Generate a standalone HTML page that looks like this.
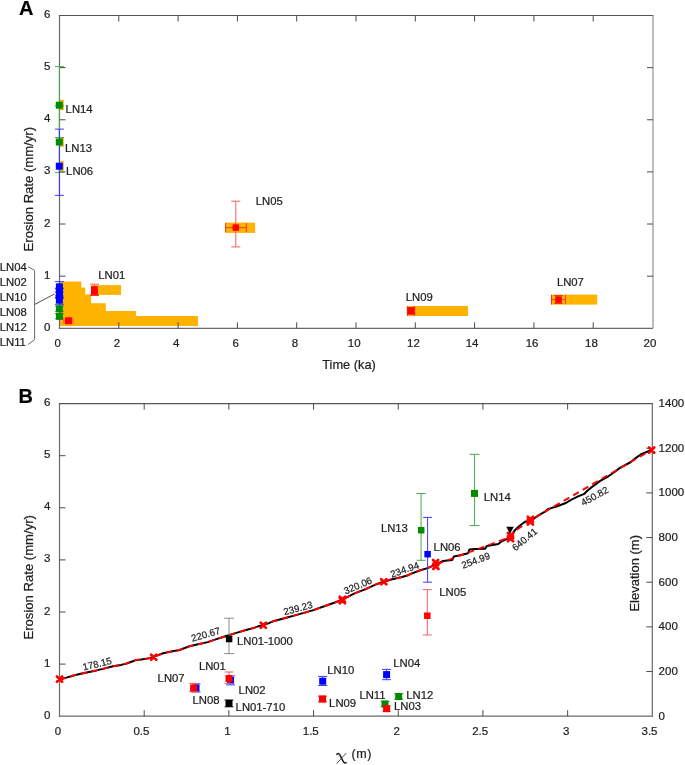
<!DOCTYPE html>
<html><head><meta charset="utf-8"><style>
html,body{margin:0;padding:0;background:#fff;}
svg{display:block;will-change:transform;}
text{font-family:"Liberation Sans", sans-serif;stroke:#1e1e1e;stroke-width:0.22px;}
</style></head><body>
<svg width="685" height="765" viewBox="0 0 685 765">
<rect width="685" height="765" fill="#fff"/>
<polygon points="59.5,326.0 59.5,281.4 81.3,281.4 81.3,287.5 85.2,287.5 85.2,294.5 91.1,294.5 91.1,303.3 105.8,303.3 105.8,311.0 136.0,311.0 136.0,316.0 198.0,316.0 198.0,326.0" fill="#FFB200"/>
<rect x="225.10" y="222.60" width="30.00" height="10.30" fill="#FFB200" />
<rect x="91.00" y="285.10" width="30.00" height="9.80" fill="#FFB200" />
<rect x="407.00" y="306.00" width="61.00" height="10.00" fill="#FFB200" />
<rect x="551.00" y="294.60" width="46.20" height="10.00" fill="#FFB200" />
<rect x="60.00" y="99.80" width="3.80" height="10.40" fill="#FFB200" />
<rect x="60.00" y="137.00" width="3.80" height="9.70" fill="#FFB200" />
<rect x="60.00" y="161.20" width="3.80" height="10.00" fill="#FFB200" />
<line x1="59.50" y1="15.50" x2="59.50" y2="328.90" stroke="#6a6a6a" stroke-width="1.2" />
<line x1="58.90" y1="328.30" x2="653.00" y2="328.30" stroke="#6a6a6a" stroke-width="1.3" />
<line x1="58.90" y1="15.50" x2="653.50" y2="15.50" stroke="#555" stroke-width="1.2" />
<line x1="653.00" y1="15.50" x2="653.00" y2="328.30" stroke="#9a9a9a" stroke-width="1.3" />
<line x1="59.50" y1="276.17" x2="65.50" y2="276.17" stroke="#4a4a4a" stroke-width="1" />
<line x1="653.00" y1="276.17" x2="647.00" y2="276.17" stroke="#4a4a4a" stroke-width="1" />
<line x1="59.50" y1="224.03" x2="65.50" y2="224.03" stroke="#4a4a4a" stroke-width="1" />
<line x1="653.00" y1="224.03" x2="647.00" y2="224.03" stroke="#4a4a4a" stroke-width="1" />
<line x1="59.50" y1="171.90" x2="65.50" y2="171.90" stroke="#4a4a4a" stroke-width="1" />
<line x1="653.00" y1="171.90" x2="647.00" y2="171.90" stroke="#4a4a4a" stroke-width="1" />
<line x1="59.50" y1="119.77" x2="65.50" y2="119.77" stroke="#4a4a4a" stroke-width="1" />
<line x1="653.00" y1="119.77" x2="647.00" y2="119.77" stroke="#4a4a4a" stroke-width="1" />
<line x1="59.50" y1="67.63" x2="65.50" y2="67.63" stroke="#4a4a4a" stroke-width="1" />
<line x1="653.00" y1="67.63" x2="647.00" y2="67.63" stroke="#4a4a4a" stroke-width="1" />
<line x1="118.80" y1="328.30" x2="118.80" y2="322.30" stroke="#4a4a4a" stroke-width="1" />
<line x1="118.80" y1="15.50" x2="118.80" y2="21.50" stroke="#4a4a4a" stroke-width="1" />
<line x1="178.10" y1="328.30" x2="178.10" y2="322.30" stroke="#4a4a4a" stroke-width="1" />
<line x1="178.10" y1="15.50" x2="178.10" y2="21.50" stroke="#4a4a4a" stroke-width="1" />
<line x1="237.40" y1="328.30" x2="237.40" y2="322.30" stroke="#4a4a4a" stroke-width="1" />
<line x1="237.40" y1="15.50" x2="237.40" y2="21.50" stroke="#4a4a4a" stroke-width="1" />
<line x1="296.70" y1="328.30" x2="296.70" y2="322.30" stroke="#4a4a4a" stroke-width="1" />
<line x1="296.70" y1="15.50" x2="296.70" y2="21.50" stroke="#4a4a4a" stroke-width="1" />
<line x1="356.00" y1="328.30" x2="356.00" y2="322.30" stroke="#4a4a4a" stroke-width="1" />
<line x1="356.00" y1="15.50" x2="356.00" y2="21.50" stroke="#4a4a4a" stroke-width="1" />
<line x1="415.30" y1="328.30" x2="415.30" y2="322.30" stroke="#4a4a4a" stroke-width="1" />
<line x1="415.30" y1="15.50" x2="415.30" y2="21.50" stroke="#4a4a4a" stroke-width="1" />
<line x1="474.60" y1="328.30" x2="474.60" y2="322.30" stroke="#4a4a4a" stroke-width="1" />
<line x1="474.60" y1="15.50" x2="474.60" y2="21.50" stroke="#4a4a4a" stroke-width="1" />
<line x1="533.90" y1="328.30" x2="533.90" y2="322.30" stroke="#4a4a4a" stroke-width="1" />
<line x1="533.90" y1="15.50" x2="533.90" y2="21.50" stroke="#4a4a4a" stroke-width="1" />
<line x1="593.20" y1="328.30" x2="593.20" y2="322.30" stroke="#4a4a4a" stroke-width="1" />
<line x1="593.20" y1="15.50" x2="593.20" y2="21.50" stroke="#4a4a4a" stroke-width="1" />
<text x="50.30" y="330.80" font-size="11.5" text-anchor="end" fill="#1e1e1e" >0</text>
<text x="50.30" y="278.67" font-size="11.5" text-anchor="end" fill="#1e1e1e" >1</text>
<text x="50.30" y="226.53" font-size="11.5" text-anchor="end" fill="#1e1e1e" >2</text>
<text x="50.30" y="174.40" font-size="11.5" text-anchor="end" fill="#1e1e1e" >3</text>
<text x="50.30" y="122.27" font-size="11.5" text-anchor="end" fill="#1e1e1e" >4</text>
<text x="50.30" y="70.13" font-size="11.5" text-anchor="end" fill="#1e1e1e" >5</text>
<text x="50.30" y="18.00" font-size="11.5" text-anchor="end" fill="#1e1e1e" >6</text>
<text x="57.70" y="347.00" font-size="11.5" text-anchor="middle" fill="#1e1e1e" >0</text>
<text x="117.00" y="347.00" font-size="11.5" text-anchor="middle" fill="#1e1e1e" >2</text>
<text x="176.30" y="347.00" font-size="11.5" text-anchor="middle" fill="#1e1e1e" >4</text>
<text x="235.60" y="347.00" font-size="11.5" text-anchor="middle" fill="#1e1e1e" >6</text>
<text x="294.90" y="347.00" font-size="11.5" text-anchor="middle" fill="#1e1e1e" >8</text>
<text x="354.20" y="347.00" font-size="11.5" text-anchor="middle" fill="#1e1e1e" >10</text>
<text x="413.50" y="347.00" font-size="11.5" text-anchor="middle" fill="#1e1e1e" >12</text>
<text x="472.10" y="347.00" font-size="11.5" text-anchor="middle" fill="#1e1e1e" >14</text>
<text x="532.10" y="347.00" font-size="11.5" text-anchor="middle" fill="#1e1e1e" >16</text>
<text x="591.40" y="347.00" font-size="11.5" text-anchor="middle" fill="#1e1e1e" >18</text>
<text x="650.00" y="347.00" font-size="11.5" text-anchor="middle" fill="#1e1e1e" >20</text>
<line x1="59.40" y1="66.59" x2="59.40" y2="137.49" stroke="#4CA64C" stroke-width="1" />
<line x1="54.90" y1="66.59" x2="63.90" y2="66.59" stroke="#4CA64C" stroke-width="1" />
<line x1="54.90" y1="137.49" x2="63.90" y2="137.49" stroke="#4CA64C" stroke-width="1" />
<line x1="59.40" y1="105.69" x2="59.40" y2="172.42" stroke="#4CA64C" stroke-width="1" />
<line x1="54.90" y1="105.69" x2="63.90" y2="105.69" stroke="#4CA64C" stroke-width="1" />
<line x1="54.90" y1="172.42" x2="63.90" y2="172.42" stroke="#4CA64C" stroke-width="1" />
<line x1="59.40" y1="129.15" x2="59.40" y2="195.36" stroke="#3B3BF0" stroke-width="1" />
<line x1="54.90" y1="129.15" x2="63.90" y2="129.15" stroke="#3B3BF0" stroke-width="1" />
<line x1="54.90" y1="195.36" x2="63.90" y2="195.36" stroke="#3B3BF0" stroke-width="1" />
<rect x="55.80" y="101.70" width="7.00" height="7.00" fill="#008C00" />
<rect x="55.80" y="138.50" width="7.00" height="7.00" fill="#008C00" />
<rect x="55.80" y="162.70" width="7.00" height="7.00" fill="#0000FF" />
<text x="65.60" y="113.00" font-size="11.3" text-anchor="start" fill="#1e1e1e" >LN14</text>
<text x="65.00" y="152.40" font-size="11.3" text-anchor="start" fill="#1e1e1e" >LN13</text>
<text x="66.10" y="174.70" font-size="11.3" text-anchor="start" fill="#1e1e1e" >LN06</text>
<line x1="59.40" y1="281.64" x2="59.40" y2="292.07" stroke="#3B3BF0" stroke-width="1" />
<line x1="54.90" y1="281.64" x2="63.90" y2="281.64" stroke="#3B3BF0" stroke-width="1" />
<line x1="54.90" y1="292.07" x2="63.90" y2="292.07" stroke="#3B3BF0" stroke-width="1" />
<line x1="59.40" y1="288.16" x2="59.40" y2="297.54" stroke="#3B3BF0" stroke-width="1" />
<line x1="54.90" y1="288.16" x2="63.90" y2="288.16" stroke="#3B3BF0" stroke-width="1" />
<line x1="54.90" y1="297.54" x2="63.90" y2="297.54" stroke="#3B3BF0" stroke-width="1" />
<line x1="59.40" y1="288.78" x2="59.40" y2="298.17" stroke="#3B3BF0" stroke-width="1" />
<line x1="54.90" y1="288.78" x2="63.90" y2="288.78" stroke="#3B3BF0" stroke-width="1" />
<line x1="54.90" y1="298.17" x2="63.90" y2="298.17" stroke="#3B3BF0" stroke-width="1" />
<line x1="59.40" y1="295.98" x2="59.40" y2="304.32" stroke="#3B3BF0" stroke-width="1" />
<line x1="54.90" y1="295.98" x2="63.90" y2="295.98" stroke="#3B3BF0" stroke-width="1" />
<line x1="54.90" y1="304.32" x2="63.90" y2="304.32" stroke="#3B3BF0" stroke-width="1" />
<line x1="59.40" y1="306.20" x2="59.40" y2="311.41" stroke="#4CA64C" stroke-width="1" />
<line x1="54.90" y1="306.20" x2="63.90" y2="306.20" stroke="#4CA64C" stroke-width="1" />
<line x1="54.90" y1="311.41" x2="63.90" y2="311.41" stroke="#4CA64C" stroke-width="1" />
<line x1="59.40" y1="313.70" x2="59.40" y2="318.92" stroke="#4CA64C" stroke-width="1" />
<line x1="54.90" y1="313.70" x2="63.90" y2="313.70" stroke="#4CA64C" stroke-width="1" />
<line x1="54.90" y1="318.92" x2="63.90" y2="318.92" stroke="#4CA64C" stroke-width="1" />
<rect x="55.90" y="283.35" width="7.00" height="7.00" fill="#0000FF" />
<rect x="55.90" y="289.35" width="7.00" height="7.00" fill="#0000FF" />
<rect x="55.90" y="289.97" width="7.00" height="7.00" fill="#0000FF" />
<rect x="55.90" y="296.65" width="7.00" height="7.00" fill="#0000FF" />
<rect x="55.90" y="305.30" width="7.00" height="7.00" fill="#008C00" />
<rect x="55.90" y="312.81" width="7.00" height="7.00" fill="#008C00" />
<line x1="63.80" y1="320.70" x2="73.00" y2="320.70" stroke="#F26060" stroke-width="1" />
<line x1="63.80" y1="317.20" x2="63.80" y2="324.20" stroke="#F26060" stroke-width="1" />
<line x1="73.00" y1="317.20" x2="73.00" y2="324.20" stroke="#F26060" stroke-width="1" />
<rect x="65.00" y="317.30" width="7.00" height="7.00" fill="#FF0000" />
<line x1="94.50" y1="284.20" x2="94.50" y2="295.30" stroke="#F26060" stroke-width="1" />
<line x1="90.00" y1="284.20" x2="99.00" y2="284.20" stroke="#F26060" stroke-width="1" />
<line x1="90.00" y1="295.30" x2="99.00" y2="295.30" stroke="#F26060" stroke-width="1" />
<line x1="90.00" y1="295.30" x2="99.00" y2="295.30" stroke="#F02020" stroke-width="1" />
<rect x="91.00" y="286.20" width="6.90" height="8.70" fill="#FF0000" />
<line x1="235.80" y1="201.20" x2="235.80" y2="246.90" stroke="#F26060" stroke-width="1" />
<line x1="231.30" y1="201.20" x2="240.30" y2="201.20" stroke="#F26060" stroke-width="1" />
<line x1="231.30" y1="246.90" x2="240.30" y2="246.90" stroke="#F26060" stroke-width="1" />
<line x1="225.60" y1="227.60" x2="246.30" y2="227.60" stroke="#E8401A" stroke-width="1" />
<line x1="225.60" y1="223.10" x2="225.60" y2="232.10" stroke="#E8401A" stroke-width="1" />
<line x1="246.30" y1="223.10" x2="246.30" y2="232.10" stroke="#E8401A" stroke-width="1" />
<rect x="232.55" y="224.35" width="6.50" height="6.50" fill="#FF0000" />
<rect x="407.20" y="307.10" width="7.60" height="7.60" fill="#FF0000" />
<line x1="407.40" y1="306.20" x2="407.40" y2="315.80" stroke="#F02010" stroke-width="1.1" />
<line x1="414.60" y1="306.20" x2="414.60" y2="315.80" stroke="#F02010" stroke-width="1.1" />
<line x1="551.50" y1="299.60" x2="565.50" y2="299.60" stroke="#F04A10" stroke-width="1" />
<line x1="551.50" y1="294.90" x2="551.50" y2="304.30" stroke="#F04A10" stroke-width="1" />
<line x1="565.50" y1="294.90" x2="565.50" y2="304.30" stroke="#F04A10" stroke-width="1" />
<line x1="551.50" y1="294.90" x2="551.50" y2="304.30" stroke="#F83020" stroke-width="1.1" />
<line x1="558.50" y1="295.50" x2="558.50" y2="303.50" stroke="#F03A10" stroke-width="1" />
<line x1="554.00" y1="295.50" x2="563.00" y2="295.50" stroke="#F03A10" stroke-width="1" />
<line x1="554.00" y1="303.50" x2="563.00" y2="303.50" stroke="#F03A10" stroke-width="1" />
<rect x="555.20" y="296.30" width="6.60" height="6.60" fill="#FF0000" />
<text x="255.70" y="204.90" font-size="11.3" text-anchor="start" fill="#1e1e1e" >LN05</text>
<text x="98.20" y="278.50" font-size="11.3" text-anchor="start" fill="#1e1e1e" >LN01</text>
<text x="405.70" y="300.50" font-size="11.3" text-anchor="start" fill="#1e1e1e" >LN09</text>
<text x="556.90" y="286.00" font-size="11.3" text-anchor="start" fill="#1e1e1e" >LN07</text>
<text x="-0.30" y="270.50" font-size="11.3" text-anchor="start" fill="#1e1e1e" >LN04</text>
<text x="-0.30" y="285.65" font-size="11.3" text-anchor="start" fill="#1e1e1e" >LN02</text>
<text x="-0.30" y="300.80" font-size="11.3" text-anchor="start" fill="#1e1e1e" >LN10</text>
<text x="-0.30" y="315.95" font-size="11.3" text-anchor="start" fill="#1e1e1e" >LN08</text>
<text x="-0.30" y="331.10" font-size="11.3" text-anchor="start" fill="#1e1e1e" >LN12</text>
<text x="-0.30" y="346.25" font-size="11.3" text-anchor="start" fill="#1e1e1e" >LN11</text>
<polyline points="28,266.6 34.6,270.4 34.6,339.6 28,344.6" fill="none" stroke="#6a6a6a" stroke-width="1"/>
<line x1="34.60" y1="304.50" x2="54.50" y2="294.00" stroke="#3a3a3a" stroke-width="0.9" />
<text x="349.00" y="369.00" font-size="12.8" text-anchor="middle" fill="#1e1e1e" >Time (ka)</text>
<text x="0.00" y="0.00" font-size="13.1" text-anchor="middle" fill="#1e1e1e" transform="translate(33.3,189.2) rotate(-90)">Erosion Rate (mm/yr)</text>
<text x="19.00" y="14.80" font-size="20" text-anchor="start" fill="#000" font-weight="bold">A</text>
<line x1="59.50" y1="403.60" x2="59.50" y2="716.80" stroke="#6a6a6a" stroke-width="1.2" />
<line x1="58.90" y1="716.20" x2="652.90" y2="716.20" stroke="#6a6a6a" stroke-width="1.3" />
<line x1="58.90" y1="403.60" x2="652.90" y2="403.60" stroke="#555" stroke-width="1.2" />
<line x1="652.30" y1="403.60" x2="652.30" y2="716.80" stroke="#6a6a6a" stroke-width="1.2" />
<line x1="59.50" y1="664.10" x2="65.50" y2="664.10" stroke="#4a4a4a" stroke-width="1" />
<line x1="59.50" y1="612.00" x2="65.50" y2="612.00" stroke="#4a4a4a" stroke-width="1" />
<line x1="59.50" y1="559.90" x2="65.50" y2="559.90" stroke="#4a4a4a" stroke-width="1" />
<line x1="59.50" y1="507.80" x2="65.50" y2="507.80" stroke="#4a4a4a" stroke-width="1" />
<line x1="59.50" y1="455.70" x2="65.50" y2="455.70" stroke="#4a4a4a" stroke-width="1" />
<line x1="652.30" y1="671.54" x2="646.30" y2="671.54" stroke="#4a4a4a" stroke-width="1" />
<line x1="652.30" y1="626.89" x2="646.30" y2="626.89" stroke="#4a4a4a" stroke-width="1" />
<line x1="652.30" y1="582.23" x2="646.30" y2="582.23" stroke="#4a4a4a" stroke-width="1" />
<line x1="652.30" y1="537.57" x2="646.30" y2="537.57" stroke="#4a4a4a" stroke-width="1" />
<line x1="652.30" y1="492.91" x2="646.30" y2="492.91" stroke="#4a4a4a" stroke-width="1" />
<line x1="652.30" y1="448.26" x2="646.30" y2="448.26" stroke="#4a4a4a" stroke-width="1" />
<line x1="144.19" y1="716.20" x2="144.19" y2="710.20" stroke="#4a4a4a" stroke-width="1" />
<line x1="144.19" y1="403.60" x2="144.19" y2="409.60" stroke="#4a4a4a" stroke-width="1" />
<line x1="228.87" y1="716.20" x2="228.87" y2="710.20" stroke="#4a4a4a" stroke-width="1" />
<line x1="228.87" y1="403.60" x2="228.87" y2="409.60" stroke="#4a4a4a" stroke-width="1" />
<line x1="313.56" y1="716.20" x2="313.56" y2="710.20" stroke="#4a4a4a" stroke-width="1" />
<line x1="313.56" y1="403.60" x2="313.56" y2="409.60" stroke="#4a4a4a" stroke-width="1" />
<line x1="398.24" y1="716.20" x2="398.24" y2="710.20" stroke="#4a4a4a" stroke-width="1" />
<line x1="398.24" y1="403.60" x2="398.24" y2="409.60" stroke="#4a4a4a" stroke-width="1" />
<line x1="482.93" y1="716.20" x2="482.93" y2="710.20" stroke="#4a4a4a" stroke-width="1" />
<line x1="482.93" y1="403.60" x2="482.93" y2="409.60" stroke="#4a4a4a" stroke-width="1" />
<line x1="567.61" y1="716.20" x2="567.61" y2="710.20" stroke="#4a4a4a" stroke-width="1" />
<line x1="567.61" y1="403.60" x2="567.61" y2="409.60" stroke="#4a4a4a" stroke-width="1" />
<text x="50.30" y="718.70" font-size="11.5" text-anchor="end" fill="#1e1e1e" >0</text>
<text x="50.30" y="666.60" font-size="11.5" text-anchor="end" fill="#1e1e1e" >1</text>
<text x="50.30" y="614.50" font-size="11.5" text-anchor="end" fill="#1e1e1e" >2</text>
<text x="50.30" y="562.40" font-size="11.5" text-anchor="end" fill="#1e1e1e" >3</text>
<text x="50.30" y="510.30" font-size="11.5" text-anchor="end" fill="#1e1e1e" >4</text>
<text x="50.30" y="458.20" font-size="11.5" text-anchor="end" fill="#1e1e1e" >5</text>
<text x="50.30" y="406.10" font-size="11.5" text-anchor="end" fill="#1e1e1e" >6</text>
<text x="658.60" y="719.60" font-size="11.5" text-anchor="start" fill="#1e1e1e" >0</text>
<text x="658.60" y="674.94" font-size="11.5" text-anchor="start" fill="#1e1e1e" >200</text>
<text x="658.60" y="630.29" font-size="11.5" text-anchor="start" fill="#1e1e1e" >400</text>
<text x="658.60" y="585.63" font-size="11.5" text-anchor="start" fill="#1e1e1e" >600</text>
<text x="658.60" y="540.97" font-size="11.5" text-anchor="start" fill="#1e1e1e" >800</text>
<text x="658.60" y="496.31" font-size="11.5" text-anchor="start" fill="#1e1e1e" >1000</text>
<text x="658.60" y="451.66" font-size="11.5" text-anchor="start" fill="#1e1e1e" >1200</text>
<text x="658.60" y="407.00" font-size="11.5" text-anchor="start" fill="#1e1e1e" >1400</text>
<text x="58.00" y="735.40" font-size="11.5" text-anchor="middle" fill="#1e1e1e" >0</text>
<text x="141.39" y="735.40" font-size="11.5" text-anchor="middle" fill="#1e1e1e" >0.5</text>
<text x="227.37" y="735.40" font-size="11.5" text-anchor="middle" fill="#1e1e1e" >1</text>
<text x="310.76" y="735.40" font-size="11.5" text-anchor="middle" fill="#1e1e1e" >1.5</text>
<text x="396.74" y="735.40" font-size="11.5" text-anchor="middle" fill="#1e1e1e" >2</text>
<text x="480.13" y="735.40" font-size="11.5" text-anchor="middle" fill="#1e1e1e" >2.5</text>
<text x="566.11" y="735.40" font-size="11.5" text-anchor="middle" fill="#1e1e1e" >3</text>
<text x="649.50" y="735.40" font-size="11.5" text-anchor="middle" fill="#1e1e1e" >3.5</text>
<text x="18.60" y="403.30" font-size="20" text-anchor="start" fill="#000" font-weight="bold">B</text>
<text x="0.00" y="0.00" font-size="13.1" text-anchor="middle" fill="#1e1e1e" transform="translate(33.3,577.3) rotate(-90)">Erosion Rate (mm/yr)</text>
<text x="0.00" y="0.00" font-size="13" text-anchor="middle" fill="#1e1e1e" transform="translate(638.7,573.3) rotate(-90)">Elevation (m)</text>
<path d="M336.9,754.4 Q338.2,752.5 339.7,754.6 L343.2,761.4 Q344.3,763.6 346.1,762.6" fill="none" stroke="#1e1e1e" stroke-width="1.55" stroke-linecap="round"/>
<path d="M336.8,763.5 L346.0,753.3" fill="none" stroke="#333" stroke-width="0.85" stroke-linecap="round"/>
<text x="351.60" y="758.30" font-size="12.5" text-anchor="start" fill="#1e1e1e" letter-spacing="0.6">(m)</text>
<polyline points="59.5,679.3 61.5,679.0 67.3,677.4 74.6,675.2 81.9,673.5 89.2,671.9 96.5,670.4 103.8,668.6 113.0,666.3 121.1,664.9 125.9,663.7 131.5,661.7 136.3,659.9 141.1,659.6 147.6,658.6 153.6,656.9 163.1,653.3 173.6,651.1 178.9,650.2 189.4,646.3 202.6,643.3 207.8,642.1 215.7,639.4 226.2,636.0 232.3,634.1 239.6,631.9 246.9,629.7 254.2,627.9 259.3,625.9 263.3,625.2 268.8,623.1 273.1,621.3 286.3,617.7 299.4,614.1 312.6,610.4 325.7,605.8 334.9,602.5 342.2,599.6 354.6,593.4 366.3,588.9 376.5,584.2 383.6,581.7 391.1,579.5 401.3,577.2 407.9,575.3 410.1,574.1 420.3,570.3 427.6,568.1 435.5,564.6 443.1,560.9 452.3,559.9 453.8,556.6 460.2,555.2 468.1,553.3 469.4,549.5 474.7,549.0 485.2,548.7 486.8,545.9 498.3,544.1 501.6,541.4 505.5,539.6 510.4,537.0 515.1,529.9 519.7,525.8 525.0,521.8 530.3,520.6 534.2,518.3 539.4,514.9 545.4,511.4 548.5,508.9 555.7,506.8 565.9,503.0 571.0,499.9 578.1,496.4 584.3,493.8 587.3,490.7 592.4,486.6 600.2,480.9 608.4,476.3 613.5,472.7 619.6,468.1 630.9,462.0 636.0,457.9 641.1,454.3 647.2,451.8 651.8,449.9" fill="none" stroke="#000" stroke-width="2" stroke-linejoin="round"/>
<polyline points="59.5,679.3 61.5,679.0 67.3,677.4 74.6,675.2 81.9,673.5 89.2,671.9 96.5,670.4 103.8,668.6 113.0,666.3 121.1,664.9 125.9,663.7 131.5,661.7 136.3,659.9 141.1,659.6 147.6,658.6 153.6,656.9 163.1,653.3 173.6,651.1 178.9,650.2 189.4,646.3 202.6,643.3 207.8,642.1 215.7,639.4 226.2,636.0 232.3,634.1 239.6,631.9 246.9,629.7 254.2,627.9 259.3,625.9 263.3,625.2 268.8,623.1 273.1,621.3 286.3,617.7 299.4,614.1 312.6,610.4 325.7,605.8 334.9,602.5 342.2,599.6 354.6,593.4 366.3,588.9 376.5,584.2 383.6,581.7 391.1,579.5 401.3,577.2 407.9,575.3 410.1,574.1 420.3,570.3 427.6,568.1 435.5,564.6 510.4,537.0 515.1,531.0 530.3,520.2 646.0,453.2" fill="none" stroke="#FF0000" stroke-width="1.8" stroke-dasharray="6.5,4.5"/>
<path d="M56.95,676.50L62.15,681.70M62.15,676.50L56.95,681.70" stroke="#FF0000" stroke-width="2.7" stroke-linecap="round"/>
<path d="M151.10,654.60L156.30,659.80M156.30,654.60L151.10,659.80" stroke="#FF0000" stroke-width="2.7" stroke-linecap="round"/>
<path d="M260.70,622.70L265.90,627.90M265.90,622.70L260.70,627.90" stroke="#FF0000" stroke-width="2.7" stroke-linecap="round"/>
<path d="M339.80,596.80L345.00,602.00M345.00,596.80L339.80,602.00" stroke="#FF0000" stroke-width="2.7" stroke-linecap="round"/>
<path d="M339.80,598.00L345.00,603.20M345.00,598.00L339.80,603.20" stroke="#FF0000" stroke-width="2.7" stroke-linecap="round"/>
<path d="M381.20,579.20L386.40,584.40M386.40,579.20L381.20,584.40" stroke="#FF0000" stroke-width="2.7" stroke-linecap="round"/>
<path d="M433.00,560.00L438.20,565.20M438.20,560.00L433.00,565.20" stroke="#FF0000" stroke-width="2.7" stroke-linecap="round"/>
<path d="M433.30,563.80L438.50,569.00M438.50,563.80L433.30,569.00" stroke="#FF0000" stroke-width="2.7" stroke-linecap="round"/>
<path d="M507.90,533.00L513.10,538.20M513.10,533.00L507.90,538.20" stroke="#FF0000" stroke-width="2.7" stroke-linecap="round"/>
<path d="M507.90,536.10L513.10,541.30M513.10,536.10L507.90,541.30" stroke="#FF0000" stroke-width="2.7" stroke-linecap="round"/>
<path d="M527.80,516.80L533.00,522.00M533.00,516.80L527.80,522.00" stroke="#FF0000" stroke-width="2.7" stroke-linecap="round"/>
<path d="M527.80,519.40L533.00,524.60M533.00,519.40L527.80,524.60" stroke="#FF0000" stroke-width="2.7" stroke-linecap="round"/>
<path d="M649.00,447.50L654.20,452.70M654.20,447.50L649.00,452.70" stroke="#FF0000" stroke-width="2.7" stroke-linecap="round"/>
<polygon points="506.3,526.8 513.7,526.8 510,534" fill="#000"/>
<text x="0" y="3.5" font-size="9.7" text-anchor="middle" fill="#1e1e1e" transform="translate(97.1,663.8) rotate(-13.2)">178.15</text>
<text x="0" y="3.5" font-size="9.7" text-anchor="middle" fill="#1e1e1e" transform="translate(205.6,634.3) rotate(-16)">220.67</text>
<text x="0" y="3.5" font-size="9.7" text-anchor="middle" fill="#1e1e1e" transform="translate(297.9,608.1) rotate(-15)">239.23</text>
<text x="0" y="3.5" font-size="9.7" text-anchor="middle" fill="#1e1e1e" transform="translate(357.8,585.4) rotate(-23)">320.06</text>
<text x="0" y="3.5" font-size="9.7" text-anchor="middle" fill="#1e1e1e" transform="translate(404.6,569.5) rotate(-19)">234.94</text>
<text x="0" y="3.5" font-size="9.7" text-anchor="middle" fill="#1e1e1e" transform="translate(475.6,560.3) rotate(-20)">254.99</text>
<text x="0" y="3.5" font-size="9.7" text-anchor="middle" fill="#1e1e1e" transform="translate(524.5,539.3) rotate(-40)">640.41</text>
<text x="0" y="3.5" font-size="9.7" text-anchor="middle" fill="#1e1e1e" transform="translate(594.6,496.1) rotate(-29)">450.82</text>
<line x1="229.00" y1="618.20" x2="229.00" y2="653.60" stroke="#8a8a8a" stroke-width="1" />
<line x1="224.00" y1="618.20" x2="234.00" y2="618.20" stroke="#8a8a8a" stroke-width="1" />
<line x1="224.00" y1="653.60" x2="234.00" y2="653.60" stroke="#8a8a8a" stroke-width="1" />
<rect x="225.85" y="635.75" width="6.50" height="6.50" fill="#000" />
<text x="237.00" y="645.40" font-size="11.3" text-anchor="start" fill="#1e1e1e" >LN01-1000</text>
<line x1="474.60" y1="454.30" x2="474.60" y2="525.60" stroke="#4CA64C" stroke-width="1" />
<line x1="469.60" y1="454.30" x2="479.60" y2="454.30" stroke="#4CA64C" stroke-width="1" />
<line x1="469.60" y1="525.60" x2="479.60" y2="525.60" stroke="#4CA64C" stroke-width="1" />
<rect x="471.00" y="489.90" width="7.00" height="7.00" fill="#008C00" />
<text x="483.80" y="501.00" font-size="11.3" text-anchor="start" fill="#1e1e1e" >LN14</text>
<line x1="421.10" y1="493.50" x2="421.10" y2="560.30" stroke="#4CA64C" stroke-width="1" />
<line x1="416.60" y1="493.50" x2="425.60" y2="493.50" stroke="#4CA64C" stroke-width="1" />
<line x1="416.60" y1="560.30" x2="425.60" y2="560.30" stroke="#4CA64C" stroke-width="1" />
<rect x="417.95" y="526.95" width="6.50" height="6.50" fill="#008C00" />
<text x="380.90" y="531.70" font-size="11.3" text-anchor="start" fill="#1e1e1e" >LN13</text>
<line x1="427.60" y1="517.40" x2="427.60" y2="582.20" stroke="#3B3BF0" stroke-width="1" />
<line x1="423.10" y1="517.40" x2="432.10" y2="517.40" stroke="#3B3BF0" stroke-width="1" />
<line x1="423.10" y1="582.20" x2="432.10" y2="582.20" stroke="#3B3BF0" stroke-width="1" />
<rect x="424.35" y="550.95" width="6.50" height="6.50" fill="#0000FF" />
<text x="433.60" y="550.70" font-size="11.3" text-anchor="start" fill="#1e1e1e" >LN06</text>
<line x1="427.30" y1="589.60" x2="427.30" y2="635.00" stroke="#F26060" stroke-width="1" />
<line x1="422.80" y1="589.60" x2="431.80" y2="589.60" stroke="#F26060" stroke-width="1" />
<line x1="422.80" y1="635.00" x2="431.80" y2="635.00" stroke="#F26060" stroke-width="1" />
<rect x="424.05" y="612.45" width="6.50" height="6.50" fill="#FF0000" />
<text x="439.30" y="596.00" font-size="11.3" text-anchor="start" fill="#1e1e1e" >LN05</text>
<line x1="196.00" y1="683.80" x2="196.00" y2="692.00" stroke="#3B3BF0" stroke-width="1" />
<line x1="191.50" y1="683.80" x2="200.50" y2="683.80" stroke="#3B3BF0" stroke-width="1" />
<line x1="191.50" y1="692.00" x2="200.50" y2="692.00" stroke="#3B3BF0" stroke-width="1" />
<rect x="192.50" y="684.50" width="7.00" height="7.00" fill="#0000FF" />
<line x1="193.60" y1="683.40" x2="193.60" y2="691.60" stroke="#F26060" stroke-width="1" />
<line x1="189.10" y1="683.40" x2="198.10" y2="683.40" stroke="#F26060" stroke-width="1" />
<line x1="189.10" y1="691.60" x2="198.10" y2="691.60" stroke="#F26060" stroke-width="1" />
<rect x="190.10" y="684.50" width="7.00" height="7.00" fill="#FF0000" />
<text x="157.60" y="681.90" font-size="11.3" text-anchor="start" fill="#1e1e1e" >LN07</text>
<text x="192.50" y="703.80" font-size="11.3" text-anchor="start" fill="#1e1e1e" >LN08</text>
<line x1="230.60" y1="676.00" x2="230.60" y2="684.90" stroke="#3B3BF0" stroke-width="1" />
<line x1="226.10" y1="676.00" x2="235.10" y2="676.00" stroke="#3B3BF0" stroke-width="1" />
<line x1="226.10" y1="684.90" x2="235.10" y2="684.90" stroke="#3B3BF0" stroke-width="1" />
<rect x="227.10" y="677.00" width="7.00" height="7.00" fill="#0000FF" />
<line x1="229.00" y1="672.00" x2="229.00" y2="683.40" stroke="#F26060" stroke-width="1" />
<line x1="224.50" y1="672.00" x2="233.50" y2="672.00" stroke="#F26060" stroke-width="1" />
<line x1="224.50" y1="683.40" x2="233.50" y2="683.40" stroke="#F26060" stroke-width="1" />
<rect x="225.50" y="675.00" width="7.00" height="7.00" fill="#FF0000" />
<text x="198.90" y="670.20" font-size="11.3" text-anchor="start" fill="#1e1e1e" >LN01</text>
<text x="238.60" y="694.20" font-size="11.3" text-anchor="start" fill="#1e1e1e" >LN02</text>
<line x1="229.00" y1="700.00" x2="229.00" y2="706.80" stroke="#222" stroke-width="1" />
<line x1="224.50" y1="700.00" x2="233.50" y2="700.00" stroke="#222" stroke-width="1" />
<line x1="224.50" y1="706.80" x2="233.50" y2="706.80" stroke="#222" stroke-width="1" />
<rect x="225.50" y="699.90" width="7.00" height="7.00" fill="#000" />
<text x="235.60" y="711.10" font-size="11.3" text-anchor="start" fill="#1e1e1e" >LN01-710</text>
<line x1="322.70" y1="676.40" x2="322.70" y2="685.50" stroke="#3B3BF0" stroke-width="1" />
<line x1="318.20" y1="676.40" x2="327.20" y2="676.40" stroke="#3B3BF0" stroke-width="1" />
<line x1="318.20" y1="685.50" x2="327.20" y2="685.50" stroke="#3B3BF0" stroke-width="1" />
<rect x="319.20" y="677.70" width="7.00" height="7.00" fill="#0000FF" />
<text x="327.20" y="674.10" font-size="11.3" text-anchor="start" fill="#1e1e1e" >LN10</text>
<line x1="386.60" y1="669.40" x2="386.60" y2="679.70" stroke="#3B3BF0" stroke-width="1" />
<line x1="382.10" y1="669.40" x2="391.10" y2="669.40" stroke="#3B3BF0" stroke-width="1" />
<line x1="382.10" y1="679.70" x2="391.10" y2="679.70" stroke="#3B3BF0" stroke-width="1" />
<rect x="383.10" y="671.10" width="7.00" height="7.00" fill="#0000FF" />
<text x="393.30" y="667.00" font-size="11.3" text-anchor="start" fill="#1e1e1e" >LN04</text>
<line x1="322.50" y1="696.20" x2="322.50" y2="701.80" stroke="#F02020" stroke-width="1" />
<line x1="318.00" y1="696.20" x2="327.00" y2="696.20" stroke="#F02020" stroke-width="1" />
<line x1="318.00" y1="701.80" x2="327.00" y2="701.80" stroke="#F02020" stroke-width="1" />
<rect x="319.00" y="695.50" width="7.00" height="7.00" fill="#FF0000" />
<text x="329.10" y="707.20" font-size="11.3" text-anchor="start" fill="#1e1e1e" >LN09</text>
<line x1="385.00" y1="701.30" x2="385.00" y2="706.70" stroke="#2E9A2E" stroke-width="1" />
<line x1="380.50" y1="701.30" x2="389.50" y2="701.30" stroke="#2E9A2E" stroke-width="1" />
<line x1="380.50" y1="706.70" x2="389.50" y2="706.70" stroke="#2E9A2E" stroke-width="1" />
<rect x="381.50" y="700.50" width="7.00" height="7.00" fill="#008C00" />
<text x="359.40" y="699.00" font-size="11.3" text-anchor="start" fill="#1e1e1e" >LN11</text>
<line x1="398.70" y1="693.60" x2="398.70" y2="699.20" stroke="#2E9A2E" stroke-width="1" />
<line x1="394.20" y1="693.60" x2="403.20" y2="693.60" stroke="#2E9A2E" stroke-width="1" />
<line x1="394.20" y1="699.20" x2="403.20" y2="699.20" stroke="#2E9A2E" stroke-width="1" />
<rect x="395.20" y="693.00" width="7.00" height="7.00" fill="#008C00" />
<text x="406.20" y="699.00" font-size="11.3" text-anchor="start" fill="#1e1e1e" >LN12</text>
<line x1="386.60" y1="706.00" x2="386.60" y2="711.40" stroke="#F02020" stroke-width="1" />
<line x1="382.60" y1="706.00" x2="390.60" y2="706.00" stroke="#F02020" stroke-width="1" />
<line x1="382.60" y1="711.40" x2="390.60" y2="711.40" stroke="#F02020" stroke-width="1" />
<rect x="383.10" y="705.20" width="7.00" height="7.00" fill="#FF0000" />
<text x="394.00" y="710.30" font-size="11.3" text-anchor="start" fill="#1e1e1e" >LN03</text>
</svg>
</body></html>
